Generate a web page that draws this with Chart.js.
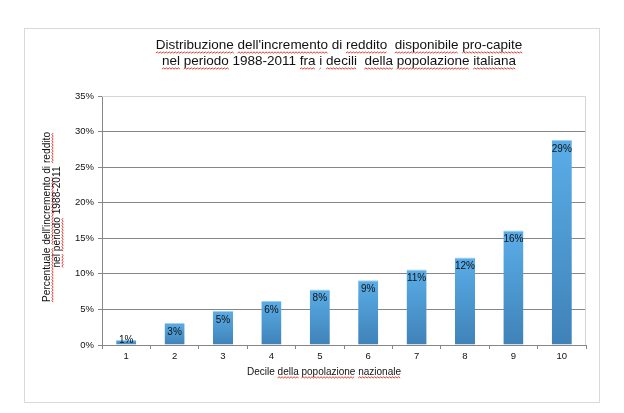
<!DOCTYPE html>
<html>
<head>
<meta charset="utf-8">
<script src="https://cdn.jsdelivr.net/npm/chart.js@4/dist/chart.umd.min.js"></script>
<style>
  html,body{margin:0;padding:0;background:#fff;}
  #wrap{position:relative;width:624px;height:413px;}
</style>
</head>
<body>
<div id="wrap"><canvas id="ch"></canvas></div>
<script>
// dati (percentuali)
const DECILI = ['1','2','3','4','5','6','7','8','9','10'];
const INCREMENTO = [0.7, 3.1, 4.8, 6.2, 7.8, 9.1, 10.6, 12.3, 16.1, 28.8];
const Y_TICKS = [0, 5, 10, 15, 20, 25, 30, 35];

const TITOLO = ["Distribuzione dell'incremento di reddito  disponibile pro-capite",
                "nel periodo 1988-2011 fra i decili  della popolazione italiana"];
const TITOLO_Y = ["Percentuale dell'incremento di reddito", "nel periodo 1988-2011"];
const TITOLO_X = "Decile della popolazione nazionale";
// parole sottolineate dal correttore (come nello screenshot)
const SPELL = ["Distribuzione","dell'incremento","reddito","disponibile","pro-capite","nel","periodo",
               "fra","i","decili","della","popolazione","italiana","Percentuale","nazionale"];

const FONT = '"Liberation Sans", Arial, sans-serif';

/* ===== testo con sottolineatura ondulata ===== */
function squiggle(ctx, x0, x1, y){
  ctx.save(); ctx.strokeStyle='#e3261f'; ctx.lineWidth=0.9; ctx.beginPath();
  let up=true; ctx.moveTo(x0,y);
  for(let x=x0+1.5; x<=x1; x+=1.5){ ctx.lineTo(x, up? y-1.2 : y); up=!up; }
  ctx.stroke(); ctx.restore();
}
function textLine(ctx, str, cx, cy, size){
  ctx.font = size+'px '+FONT;
  ctx.fillStyle='#111'; ctx.textBaseline='middle'; ctx.textAlign='left';
  const w = ctx.measureText(str).width; const x0 = cx - w/2;
  ctx.fillText(str, x0, cy);
  // sottolinea parola per parola
  let pos=0;
  str.split(' ').forEach(word=>{
    if(word && SPELL.includes(word)){
      const a = x0 + ctx.measureText(str.slice(0,pos)).width;
      const b = a + ctx.measureText(word).width;
      squiggle(ctx, a, b, cy + size*0.6);
    }
    pos += word.length + 1;
  });
}

const decorPlugin = {
  id:'decor',
  beforeDraw(chart){
    const ctx=chart.ctx;
    ctx.save(); ctx.fillStyle='#fff'; ctx.fillRect(0,0,chart.width,chart.height);
    ctx.strokeStyle='#d9d9d9'; ctx.lineWidth=1; ctx.strokeRect(24.5,28.5,575,374); ctx.restore();
  },
  afterDraw(chart){
    const ctx=chart.ctx, a=chart.chartArea;
    // bordo area grafico (alto e destra)
    ctx.save(); ctx.strokeStyle='#d4d4d4'; ctx.lineWidth=1; ctx.beginPath();
    ctx.moveTo(a.left, a.top+0.5); ctx.lineTo(a.right-0.5, a.top+0.5); ctx.lineTo(a.right-0.5, a.bottom);
    ctx.stroke(); ctx.restore();
    // titoli
    ctx.save();
    textLine(ctx, TITOLO[0], 339, 45, 13.5);
    textLine(ctx, TITOLO[1], 339, 61, 13.5);
    textLine(ctx, TITOLO_X, 324, 372, 10);
    ctx.save(); ctx.translate(47, 217); ctx.rotate(-Math.PI/2); textLine(ctx, TITOLO_Y[0], 0, 0, 10.2); ctx.restore();
    ctx.save(); ctx.translate(57, 217); ctx.rotate(-Math.PI/2); textLine(ctx, TITOLO_Y[1], 0, 0, 10.2); ctx.restore();
    ctx.restore();
  },
  afterDatasetsDraw(chart){
    // etichette dati in cima alle barre
    const ctx=chart.ctx, meta=chart.getDatasetMeta(0), base=chart.scales.y.getPixelForValue(0);
    ctx.save(); ctx.font='10px '+FONT; ctx.fillStyle='#111'; ctx.textAlign='center'; ctx.textBaseline='middle';
    meta.data.forEach((bar,i)=>{
      const y=Math.min(bar.y+9, base-5);
      ctx.fillText(Math.round(INCREMENTO[i])+'%', bar.x, y);
    });
    ctx.restore();
  }
};

function barFill(c){
  const ch=c.chart; if(!ch.chartArea) return '#4f9bd6';
  const y=ch.scales.y, top=y.getPixelForValue(c.raw), bot=y.getPixelForValue(0);
  const g=ch.ctx.createLinearGradient(0, top, 0, Math.max(bot, top+1));
  g.addColorStop(0,'#5aade8'); g.addColorStop(1,'#3f82b8');
  return g;
}

new Chart(document.getElementById('ch'),{
  type:'bar',
  data:{labels:DECILI, datasets:[{data:INCREMENTO, backgroundColor:barFill,
    borderColor:'#9fd0f2', borderWidth:{top:1,left:0,right:0,bottom:0}, borderSkipped:'bottom',
    barPercentage:0.83, categoryPercentage:0.5}]},
  options:{
    responsive:true, maintainAspectRatio:false, animation:false,
    devicePixelRatio:1,
    layout:{padding:{top:96, right:38, bottom:0, left:0}},
    plugins:{legend:{display:false}, tooltip:{enabled:false}, title:{display:false}},
    scales:{
      x:{
        offset:true,
        grid:{display:true, drawOnChartArea:false, offset:true, tickLength:4, color:'#868686'},
        border:{color:'#868686'},
        ticks:{font:{family:FONT,size:9.5}, color:'#111', padding:2, maxRotation:0},
        afterFit:(s)=>{ s.height=68; }
      },
      y:{
        min:0, max:35,
        afterBuildTicks:(s)=>{ s.ticks=Y_TICKS.map(v=>({value:v})); },
        grid:{color:(c)=> c.tick && c.tick.value===35 ? 'rgba(0,0,0,0)' : '#868686', tickColor:'#868686', tickLength:4},
        border:{color:'#868686'},
        ticks:{font:{family:FONT,size:9.5}, color:'#111', padding:4, callback:(v)=>v+'%'},
        afterFit:(s)=>{ s.width=102; }
      }
    }
  },
  plugins:[decorPlugin]
});
</script>
</body>
</html>
